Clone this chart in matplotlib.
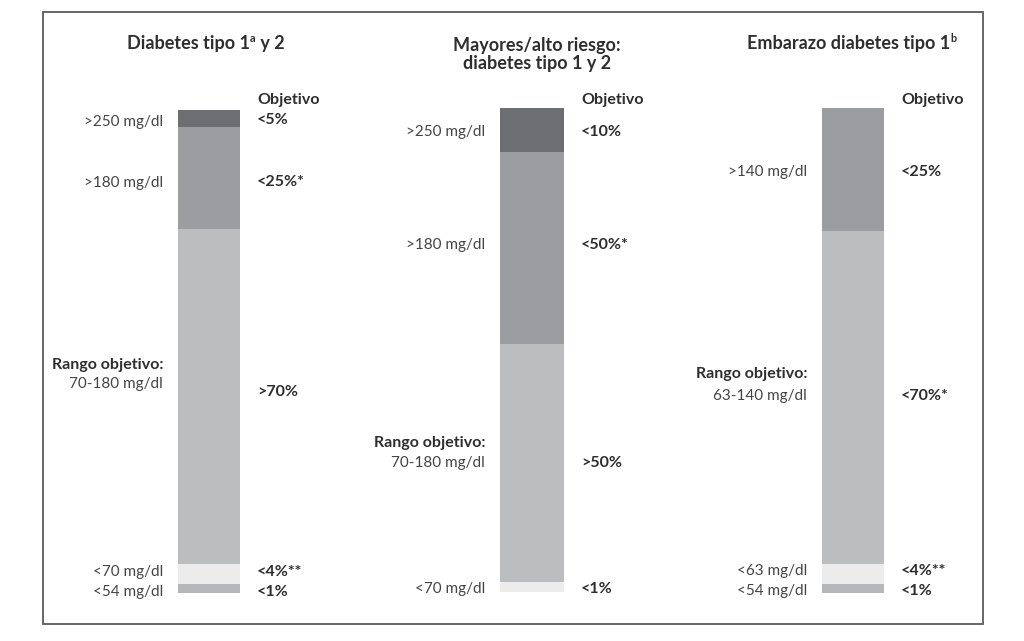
import matplotlib.pyplot as plt
from matplotlib.patches import Rectangle

# segment heights (top to bottom)
seg_1 = [17, 102, 335, 20, 9]
seg_2 = [44, 192, 238, 10]
seg_3 = [123, 333, 20, 9]

col_1 = ["#6d6e71", "#9c9da0", "#bcbdbf", "#ececed", "#b6b7b9"]
col_2 = ["#6d6e71", "#9c9da0", "#bcbdbf", "#ececed"]
col_3 = ["#9c9da0", "#bcbdbf", "#ececed", "#b6b7b9"]

# title pieces: (text, is_superscript)
title_1 = [("Diabetes tipo 1", False), ("a", True), (" y 2", False)]
title_2 = [("Mayores/alto riesgo:", False)]
title_2b = [("diabetes tipo 1 y 2", False)]
title_3 = [("Embarazo diabetes tipo 1", False), ("b", True)]

# (text, y) for the left and right labels
left_1 = [(">250 mg/dl", 122), (">180 mg/dl", 183), ("70-180 mg/dl", 384), ("<70 mg/dl", 572), ("<54 mg/dl", 592)]
right_1 = [("<5%", 120), ("<25%*", 182), (">70%", 392), ("<4%**", 572), ("<1%", 592)]
left_2 = [(">250 mg/dl", 132), (">180 mg/dl", 245), ("70-180 mg/dl", 463), ("<70 mg/dl", 589)]
right_2 = [("<10%", 132), ("<50%*", 245), (">50%", 463), ("<1%", 589)]
left_3 = [(">140 mg/dl", 172), ("63-140 mg/dl", 396), ("<63 mg/dl", 571), ("<54 mg/dl", 591)]
right_3 = [("<25%", 172), ("<70%*", 396), ("<4%**", 571), ("<1%", 591)]
rango_y = [365, 443, 374]

bar_x = [209, 532, 853]
bar_w = [62, 64, 62]
bar_top = [110, 108, 108]

TXT = "#2e2e2e"
BOLD = ["Lato", "DejaVu Sans"]
REG = ["Lato", "DejaVu Sans"]

fig = plt.figure(figsize=(10.24, 6.41), dpi=100)
ax = fig.add_axes([0, 0, 1, 1])
ax.set_xlim(0, 1024)
ax.set_ylim(641, 0)
ax.axis("off")
renderer = fig.canvas.get_renderer()


def rich_title(xc, y, parts, size=13):
    texts = []
    cur = xc
    for s, sup in parts:
        fs = size * 0.6 if sup else size
        dy = -5 if sup else 0
        t = ax.text(cur, y + dy, s, ha="left", va="center", fontsize=fs,
                    fontweight="bold", color=TXT, family=BOLD)
        w = t.get_window_extent(renderer).width
        texts.append(t)
        cur += w + (1 if sup else 0)
    total = cur - xc
    for t in texts:
        t.set_x(t.get_position()[0] - total / 2)


ax.add_patch(Rectangle((43, 12), 940, 612, fill=False, edgecolor="#5a5a5a", lw=1.3))

segs = [seg_1, seg_2, seg_3]
cols = [col_1, col_2, col_3]
lefts = [left_1, left_2, left_3]
rights = [right_1, right_2, right_3]

rich_title(206, 43, title_1)
rich_title(537, 45, title_2)
rich_title(537, 64, title_2b)
rich_title(852, 43, title_3)

for i in range(3):
    bottom = bar_top[i]
    for h, c in zip(segs[i], cols[i]):
        ax.bar(bar_x[i], h, width=bar_w[i], bottom=bottom, color=c, linewidth=0)
        bottom += h

    lx = bar_x[i] - bar_w[i] / 2 - 15
    rx = bar_x[i] + bar_w[i] / 2 + 17
    ax.text(rx, 100, "Objetivo", ha="left", va="center", fontsize=11.5,
            fontweight="bold", color=TXT, family=BOLD)
    ax.text(lx, rango_y[i], "Rango objetivo:", ha="right", va="center", fontsize=11.5,
            fontweight="bold", color=TXT, family=BOLD)
    for t, y in lefts[i]:
        ax.text(lx, y, t, ha="right", va="center", fontsize=11, color="#444444", family=REG)
    for t, y in rights[i]:
        ax.text(rx, y, t, ha="left", va="center", fontsize=11.5, fontweight="bold",
                color=TXT, family=BOLD)

fig.savefig("out.png", dpi=100)
